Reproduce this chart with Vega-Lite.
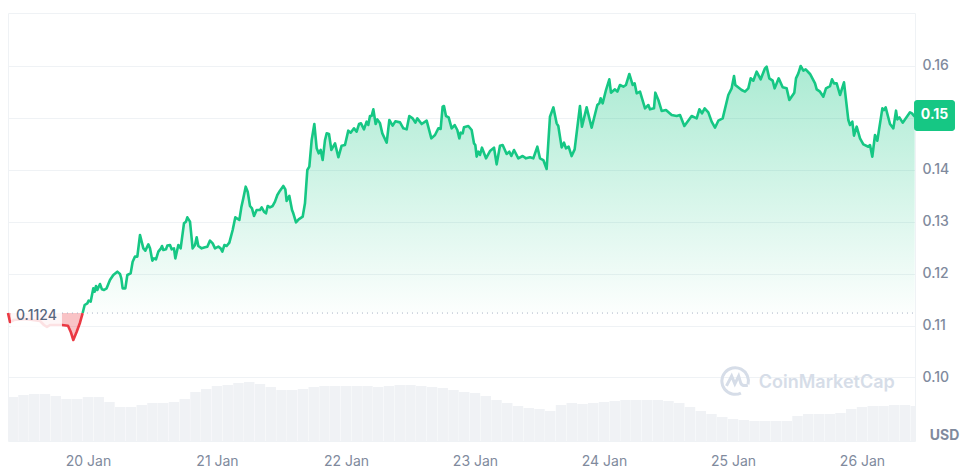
{
  "$schema": "https://vega.github.io/schema/vega-lite/v6.json",
  "width": 907,
  "height": 428,
  "autosize": {"type": "none"},
  "padding": {"left": 8, "top": 13, "right": 56, "bottom": 31},
  "background": "#ffffff",
  "view": {"stroke": "#eff2f5"},
  "config": {"font": "Inter"},
  "datasets": {
    "above": [
      {"hour":-0.99,"price":0.1124},{"hour":-0.62,"price":0.11395},{"hour":-0.12,"price":0.11427},{"hour":0.12,"price":0.11479},{"hour":0.5,"price":0.1146},{"hour":0.99,"price":0.11716},{"hour":1.24,"price":0.11652},{"hour":1.49,"price":0.11761},{"hour":1.74,"price":0.11684},{"hour":2.23,"price":0.118},{"hour":2.6,"price":0.11697},{"hour":2.98,"price":0.11684},{"hour":3.47,"price":0.11716},{"hour":4.09,"price":0.11877},{"hour":4.71,"price":0.11973},{"hour":5.46,"price":0.12038},{"hour":5.95,"price":0.11993},{"hour":6.2,"price":0.11909},{"hour":6.45,"price":0.11716},{"hour":6.95,"price":0.11716},{"hour":7.32,"price":0.11973},{"hour":7.94,"price":0.12005},{"hour":8.31,"price":0.1223},{"hour":8.74,"price":0.12327},{"hour":9.18,"price":0.12327},{"hour":9.68,"price":0.12744},{"hour":10.3,"price":0.12487},{"hour":10.67,"price":0.12442},{"hour":11.23,"price":0.12564},{"hour":11.54,"price":0.12487},{"hour":11.97,"price":0.1225},{"hour":12.28,"price":0.12294},{"hour":12.65,"price":0.12275},{"hour":13.09,"price":0.12423},{"hour":13.58,"price":0.12487},{"hour":13.77,"price":0.12532},{"hour":14.02,"price":0.12455},{"hour":14.51,"price":0.12468},{"hour":14.76,"price":0.12539},{"hour":15.26,"price":0.12551},{"hour":15.57,"price":0.12468},{"hour":16,"price":0.12487},{"hour":16.25,"price":0.12294},{"hour":16.81,"price":0.12551},{"hour":17.24,"price":0.12487},{"hour":17.86,"price":0.12969},{"hour":18.23,"price":0.13001},{"hour":18.48,"price":0.13084},{"hour":18.98,"price":0.13001},{"hour":19.47,"price":0.12487},{"hour":19.91,"price":0.12551},{"hour":20.22,"price":0.12699},{"hour":20.53,"price":0.12532},{"hour":21.15,"price":0.12487},{"hour":21.77,"price":0.12506},{"hour":22.2,"price":0.12519},{"hour":22.7,"price":0.12635},{"hour":23.2,"price":0.12583},{"hour":23.63,"price":0.12487},{"hour":24.25,"price":0.12519},{"hour":24.68,"price":0.12487},{"hour":25,"price":0.12423},{"hour":25.37,"price":0.12551},{"hour":25.8,"price":0.12532},{"hour":26.3,"price":0.12596},{"hour":26.92,"price":0.1284},{"hour":27.41,"price":0.13084},{"hour":28.16,"price":0.13033},{"hour":28.53,"price":0.13277},{"hour":28.9,"price":0.13451},{"hour":29.34,"price":0.13675},{"hour":29.71,"price":0.13579},{"hour":30.14,"price":0.13303},{"hour":30.51,"price":0.13258},{"hour":30.89,"price":0.1311},{"hour":31.38,"price":0.13226},{"hour":32,"price":0.13226},{"hour":32.31,"price":0.13277},{"hour":32.75,"price":0.13194},{"hour":33.12,"price":0.13162},{"hour":33.43,"price":0.13303},{"hour":33.86,"price":0.13277},{"hour":34.36,"price":0.13303},{"hour":34.79,"price":0.13386},{"hour":35.23,"price":0.13515},{"hour":35.72,"price":0.13598},{"hour":36.34,"price":0.13688},{"hour":36.72,"price":0.13624},{"hour":36.96,"price":0.13399},{"hour":37.46,"price":0.13496},{"hour":37.96,"price":0.13226},{"hour":38.2,"price":0.13162},{"hour":38.7,"price":0.12988},{"hour":39.2,"price":0.13046},{"hour":39.94,"price":0.13097},{"hour":40.37,"price":0.13354},{"hour":40.81,"price":0.13997},{"hour":41.18,"price":0.14061},{"hour":41.62,"price":0.14575},{"hour":42.11,"price":0.14883},{"hour":42.55,"price":0.14414},{"hour":42.92,"price":0.14318},{"hour":43.29,"price":0.14382},{"hour":43.66,"price":0.14189},{"hour":44.1,"price":0.14575},{"hour":44.41,"price":0.14703},{"hour":44.84,"price":0.1469},{"hour":45.28,"price":0.14382},{"hour":45.96,"price":0.1451},{"hour":46.58,"price":0.14241},
      {"hour":47.19,"price":0.14465},{"hour":47.81,"price":0.14478},{"hour":48.43,"price":0.14754},{"hour":48.87,"price":0.14715},{"hour":49.49,"price":0.14799},{"hour":49.98,"price":0.14734},{"hour":50.42,"price":0.14882},{"hour":50.79,"price":0.14895},{"hour":51.35,"price":0.14779},{"hour":51.84,"price":0.14927},{"hour":52.15,"price":0.14863},{"hour":52.46,"price":0.15036},{"hour":52.77,"price":0.15036},{"hour":53.09,"price":0.15165},{"hour":53.52,"price":0.14882},{"hour":53.83,"price":0.14972},{"hour":54.33,"price":0.14895},{"hour":54.76,"price":0.14702},{"hour":55.57,"price":0.14522},{"hour":56.06,"price":0.14959},{"hour":56.68,"price":0.1485},{"hour":57.18,"price":0.14934},{"hour":58.05,"price":0.14914},{"hour":58.67,"price":0.14799},{"hour":59.29,"price":0.14779},{"hour":59.78,"price":0.15036},{"hour":60.4,"price":0.14991},{"hour":60.9,"price":0.14908},{"hour":61.27,"price":0.14991},{"hour":62.08,"price":0.14882},{"hour":63.01,"price":0.14946},{"hour":63.88,"price":0.14606},{"hour":64.56,"price":0.1467},{"hour":65.18,"price":0.14799},{"hour":65.61,"price":0.14786},{"hour":65.98,"price":0.15216},{"hour":66.23,"price":0.15229},{"hour":66.6,"price":0.15036},{"hour":67.1,"price":0.15011},{"hour":67.66,"price":0.14799},{"hour":68.22,"price":0.14863},{"hour":68.71,"price":0.14767},{"hour":69.09,"price":0.14606},{"hour":69.33,"price":0.14715},{"hour":69.71,"price":0.14702},{"hour":69.95,"price":0.14818},{"hour":70.76,"price":0.14844},{"hour":71.38,"price":0.14767},{"hour":71.81,"price":0.1451},{"hour":72.06,"price":0.14478},{"hour":72.31,"price":0.14253},{"hour":72.62,"price":0.14349},{"hour":72.93,"price":0.14285},{"hour":73.3,"price":0.14426},{"hour":74.05,"price":0.14221},{"hour":74.79,"price":0.14362},{"hour":75.54,"price":0.14426},{"hour":76.03,"price":0.14105},{"hour":76.65,"price":0.14465},{"hour":77.15,"price":0.14478},{"hour":77.89,"price":0.14304},{"hour":78.39,"price":0.14349},{"hour":78.76,"price":0.14266},{"hour":79.26,"price":0.14381},{"hour":80.06,"price":0.14221},{"hour":80.87,"price":0.14266},{"hour":81.49,"price":0.14221},{"hour":82.23,"price":0.1424},{"hour":82.85,"price":0.14221},{"hour":83.6,"price":0.14445},{"hour":84.09,"price":0.14221},{"hour":84.71,"price":0.14188},{"hour":85.33,"price":0.14015},{"hour":85.95,"price":0.15023},{"hour":86.58,"price":0.15203},
      {"hour":87.19,"price":0.14895},{"hour":87.5,"price":0.14844},{"hour":88.12,"price":0.14432},{"hour":88.56,"price":0.14522},{"hour":88.93,"price":0.14413},{"hour":89.42,"price":0.14445},{"hour":89.98,"price":0.14265},{"hour":90.54,"price":0.14394},{"hour":91.53,"price":0.15229},{"hour":91.9,"price":0.14831},{"hour":92.77,"price":0.15203},{"hour":93.7,"price":0.14811},{"hour":94.76,"price":0.15248},{"hour":95.13,"price":0.1528},{"hour":95.38,"price":0.15377},{"hour":95.75,"price":0.1528},{"hour":96.37,"price":0.15537},{"hour":96.99,"price":0.15743},{"hour":97.3,"price":0.15486},{"hour":98.04,"price":0.1555},{"hour":98.48,"price":0.15505},{"hour":98.97,"price":0.15634},{"hour":99.6,"price":0.15602},{"hour":100.09,"price":0.15634},{"hour":100.71,"price":0.15846},{"hour":101.33,"price":0.15634},{"hour":101.7,"price":0.15666},{"hour":102.08,"price":0.15473},{"hour":102.7,"price":0.15505},{"hour":103.63,"price":0.15184},{"hour":104.25,"price":0.15248},{"hour":104.56,"price":0.15165},{"hour":105.3,"price":0.15184},{"hour":105.55,"price":0.15486},{"hour":106.11,"price":0.15345},{"hour":106.73,"price":0.15133},{"hour":107.53,"price":0.15152},{"hour":108.59,"price":0.15056},{"hour":109.52,"price":0.15036},{"hour":110.14,"price":0.15056},{"hour":110.95,"price":0.14844},{"hour":112.31,"price":0.15036},{"hour":113.24,"price":0.14991},{"hour":113.74,"price":0.15165},{"hour":114.23,"price":0.15088},{"hour":114.73,"price":0.15184},{"hour":115.41,"price":0.15107},{"hour":116.03,"price":0.14927},{"hour":116.65,"price":0.14811},{"hour":117.27,"price":0.14946},{"hour":118.08,"price":0.14991},{"hour":119.13,"price":0.15441},{"hour":119.75,"price":0.15569},{"hour":120.19,"price":0.15807},{"hour":120.43,"price":0.15634},{"hour":121.61,"price":0.15537},{"hour":122.23,"price":0.15505},{"hour":122.85,"price":0.15569},{"hour":123.29,"price":0.15762},{"hour":123.78,"price":0.15717},{"hour":124.4,"price":0.15891},{"hour":125.15,"price":0.15743},{"hour":125.95,"price":0.15955},{"hour":126.26,"price":0.15987},{"hour":126.76,"price":0.15762},{"hour":127.38,"price":0.15717},{"hour":127.75,"price":0.15569},{"hour":128.5,"price":0.15762},{"hour":129.24,"price":0.15589},{"hour":129.98,"price":0.15569},{"hour":130.48,"price":0.15345},{"hour":131.41,"price":0.15486},{"hour":131.72,"price":0.15762},{"hour":132.16,"price":0.15858},{"hour":132.59,"price":0.16},{"hour":133.09,"price":0.1591},{"hour":133.52,"price":0.15935},{"hour":134.33,"price":0.15846},{"hour":135.26,"price":0.15666},{"hour":135.57,"price":0.1555},{"hour":136.19,"price":0.15505},{"hour":136.81,"price":0.15409},{"hour":137.3,"price":0.15569},{"hour":138.05,"price":0.15614},{"hour":138.42,"price":0.15743},{"hour":138.79,"price":0.15666},{"hour":139.29,"price":0.15666},{"hour":139.91,"price":0.15441},{"hour":140.65,"price":0.15685},{"hour":141.46,"price":0.14959},{"hour":141.77,"price":0.14863},{"hour":142.2,"price":0.14927},{"hour":142.51,"price":0.14657},{"hour":143.01,"price":0.14831},{"hour":143.63,"price":0.14606},{"hour":144.25,"price":0.1449},{"hour":145.18,"price":0.14445},{"hour":145.49,"price":0.14477},{"hour":145.92,"price":0.14253},{"hour":146.42,"price":0.1467},{"hour":146.85,"price":0.14561},{"hour":147.79,"price":0.15184},{"hour":148.09,"price":0.15152},{"hour":148.4,"price":0.15203},{"hour":149.21,"price":0.14882},{"hour":149.83,"price":0.14799},{"hour":150.33,"price":0.15139},{"hour":150.57,"price":0.14972},{"hour":150.95,"price":0.15011},{"hour":151.57,"price":0.14908},{"hour":152.93,"price":0.15107},{"hour":153.3,"price":0.15088},{"hour":153.8,"price":0.15023}
    ],
    "below": [
      {"hour":-14.88,"price":0.11241},{"hour":-14.51,"price":0.11067},{"hour":-13.77,"price":0.11106},{"hour":-11.72,"price":0.11125},{"hour":-8.93,"price":0.11087},{"hour":-8.19,"price":0.1101},{"hour":-7.63,"price":0.10971},{"hour":-7.07,"price":0.1101},{"hour":-4.84,"price":0.1101},{"hour":-3.72,"price":0.10996},{"hour":-3.22,"price":0.10881},{"hour":-2.73,"price":0.10721},{"hour":-2.1,"price":0.10881},{"hour":-1.49,"price":0.11054},{"hour":-0.99,"price":0.1124}
    ],
    "volume": [
      {"hour":-16,"vol":43},{"hour":-14,"vol":44},{"hour":-12,"vol":46},{"hour":-10,"vol":47},{"hour":-8,"vol":47},{"hour":-6,"vol":45},{"hour":-4,"vol":42},{"hour":-2,"vol":42},{"hour":0,"vol":44},{"hour":2,"vol":44},{"hour":4,"vol":39},{"hour":6,"vol":34},{"hour":8,"vol":34},{"hour":10,"vol":36},{"hour":12,"vol":38},{"hour":14,"vol":38},{"hour":16,"vol":39},{"hour":18,"vol":42},{"hour":20,"vol":49},{"hour":22,"vol":52},{"hour":24,"vol":55},{"hour":26,"vol":56},{"hour":28,"vol":58},{"hour":30,"vol":59},{"hour":32,"vol":57},{"hour":34,"vol":54},{"hour":36,"vol":51},{"hour":38,"vol":51},{"hour":40,"vol":52},{"hour":42,"vol":54},{"hour":44,"vol":55},{"hour":46,"vol":55},{"hour":48,"vol":55},{"hour":50,"vol":55},{"hour":52,"vol":55},{"hour":54,"vol":54},{"hour":56,"vol":55},{"hour":58,"vol":56},{"hour":60,"vol":56},{"hour":62,"vol":55},{"hour":64,"vol":54},{"hour":66,"vol":53},{"hour":68,"vol":51},{"hour":70,"vol":49},{"hour":72,"vol":48},{"hour":74,"vol":45},{"hour":76,"vol":41},{"hour":78,"vol":38},{"hour":80,"vol":35},{"hour":82,"vol":33},{"hour":84,"vol":32},{"hour":86,"vol":30},{"hour":88,"vol":36},{"hour":90,"vol":38},{"hour":92,"vol":37},{"hour":94,"vol":38},{"hour":96,"vol":39},{"hour":98,"vol":40},{"hour":100,"vol":41},{"hour":102,"vol":41},{"hour":104,"vol":41},{"hour":106,"vol":41},{"hour":108,"vol":40},{"hour":110,"vol":38},{"hour":112,"vol":34},{"hour":114,"vol":30},{"hour":116,"vol":27},{"hour":118,"vol":24},{"hour":120,"vol":22},{"hour":122,"vol":21},{"hour":124,"vol":20},{"hour":126,"vol":20},{"hour":128,"vol":20},{"hour":130,"vol":20},{"hour":132,"vol":25},{"hour":134,"vol":27},{"hour":136,"vol":27},{"hour":138,"vol":27},{"hour":140,"vol":28},{"hour":142,"vol":32},{"hour":144,"vol":34},{"hour":146,"vol":35},{"hour":148,"vol":35},{"hour":150,"vol":36},{"hour":152,"vol":36},{"hour":154,"vol":35}
    ]
  },
  "encoding": {
    "x": {
      "field": "hour",
      "type": "quantitative",
      "title": null,
      "scale": {"domain": [-14.88, 153.86], "nice": false, "zero": false, "padding": 0},
      "axis": {
        "values": [0, 24, 48, 72, 96, 120, 144],
        "labelExpr": "(20 + datum.value / 24) + ' Jan'",
        "grid": false,
        "domain": false,
        "ticks": false,
        "labelPadding": 13,
        "labelFontSize": 14,
        "labelColor": "#808a9d",
        "labelFont": "Inter"
      }
    }
  },
  "layer": [
    {
      "data": {"name": "volume"},
      "mark": {"type": "bar", "size": 10.4, "color": "#f0f2f5", "clip": true},
      "encoding": {
        "y": {"field": "vol", "type": "quantitative", "title": null, "scale": {"domain": [0, 428]}, "axis": null}
      }
    },
    {
      "encoding": {
        "y": {
          "field": "price",
          "type": "quantitative",
          "title": null,
          "scale": {"domain": [0.08775, 0.17021], "nice": false, "zero": false},
          "axis": {
            "orient": "right",
            "values": [0.10, 0.11, 0.12, 0.13, 0.14, 0.15, 0.16],
            "labelExpr": "datum.value == 0.15 ? '' : format(datum.value, '.2f')",
            "grid": true,
            "gridColor": "#eff2f5",
            "domain": false,
            "ticks": false,
            "labelPadding": 7,
            "labelFontSize": 14,
            "labelFontWeight": 500,
            "labelColor": "#808a9d",
            "labelFont": "Inter"
          }
        }
      },
      "layer": [
        {
          "data": {"name": "above"},
          "mark": {
            "type": "area",
            "color": {
              "gradient": "linear",
              "x1": 0, "y1": 0, "x2": 0, "y2": 1,
              "stops": [
                {"offset": 0, "color": "rgba(22,199,132,0.36)"},
                {"offset": 1, "color": "rgba(22,199,132,0.01)"}
              ]
            }
          },
          "encoding": {"y2": {"datum": 0.1124}}
        },
        {
          "data": {"name": "below"},
          "mark": {"type": "area", "color": "#ea3943", "opacity": 0.3},
          "encoding": {"y2": {"datum": 0.1124}}
        },
        {
          "data": {"values": [{"hour": -4.84, "hour2": 153.86, "price": 0.1124}]},
          "mark": {"type": "rule", "color": "#a6b0c3", "strokeDash": [1, 4], "strokeWidth": 1},
          "encoding": {"x2": {"field": "hour2"}}
        },
        {
          "data": {"name": "below"},
          "mark": {"type": "line", "color": "#ea3943", "strokeWidth": 2.6, "strokeJoin": "round"},
          "encoding": {}
        },
        {
          "data": {"name": "above"},
          "mark": {"type": "line", "color": "#16c784", "strokeWidth": 2.6, "strokeJoin": "round"},
          "encoding": {}
        },
        {
          "data": {"values": [{"hour": -14.33, "hour2": -4.84, "price": 0.11434, "price2": 0.10913}]},
          "mark": {"type": "rect", "color": "#ffffff", "opacity": 0.85},
          "encoding": {"x2": {"field": "hour2"}, "y2": {"field": "price2"}}
        },
        {
          "data": {"values": [{"hour": -13.4, "price": 0.11183, "label": "0.1124"}]},
          "mark": {"type": "text", "align": "left", "baseline": "middle", "font": "Inter", "fontSize": 14, "fontWeight": 500, "color": "#58667e"},
          "encoding": {"text": {"field": "label"}}
        },
        {
          "data": {"values": [{"hour": 120.4, "price": 0.09931}]},
          "mark": {
            "type": "point",
            "size": 784,
            "filled": false,
            "stroke": "#d6dde8",
            "strokeWidth": 3,
            "opacity": 1,
            "shape": "M0.92,0.24 A0.95,0.95 0 1 0 0.41,0.86 M-0.62,0.35 L-0.25,-0.35 L-0.02,0.2 L0.25,-0.35 L0.4,0.15 Q0.5,0.4 0.9,0.3"
          },
          "encoding": {}
        },
        {
          "data": {"values": [{"hour": 124.8, "price": 0.09898, "label": "CoinMarketCap"}]},
          "mark": {"type": "text", "align": "left", "baseline": "middle", "font": "Inter", "fontSize": 18, "fontWeight": 600, "color": "#d6dde8"},
          "encoding": {"text": {"field": "label"}}
        },
        {
          "data": {"values": [{"hour": 153.68, "hour2": 161.3, "price": 0.15345, "price2": 0.14748}]},
          "mark": {"type": "rect", "color": "#16c784", "cornerRadius": 3},
          "encoding": {"x2": {"field": "hour2"}, "y2": {"field": "price2"}}
        },
        {
          "data": {"values": [{"hour": 157.5, "price": 0.1505, "label": "0.15"}]},
          "mark": {"type": "text", "align": "center", "baseline": "middle", "font": "Inter", "fontSize": 14, "fontWeight": 700, "color": "#ffffff"},
          "encoding": {"text": {"field": "label"}}
        },
        {
          "data": {"values": [{"hour": 156.6, "price": 0.0888, "label": "USD"}]},
          "mark": {"type": "text", "align": "left", "baseline": "middle", "font": "Inter", "fontSize": 14, "fontWeight": 700, "color": "#808a9d"},
          "encoding": {"text": {"field": "label"}}
        }
      ]
    }
  ],
  "resolve": {"scale": {"y": "independent"}}
}
